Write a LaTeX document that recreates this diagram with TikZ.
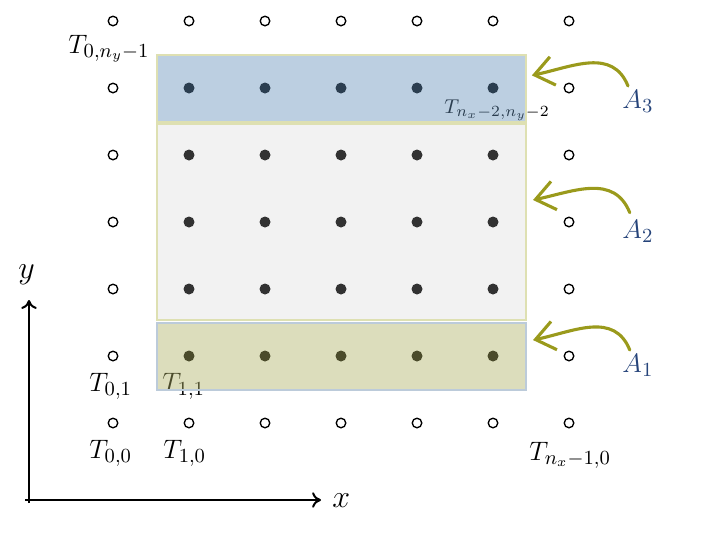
\documentclass[tikz,border=0pt]{standalone}
\usetikzlibrary{arrows.meta,calc}
\definecolor{olivearr}{RGB}{154,154,28}
\definecolor{alabel}{RGB}{38,68,122}
\definecolor{fillthree}{RGB}{100,144,186}
\definecolor{filltwo}{RGB}{203,203,203}
\definecolor{fillone}{RGB}{174,176,100}
\definecolor{edgeyel}{RGB}{222,224,178}
\definecolor{edgeblue}{RGB}{188,203,218}
\begin{document}
\begin{tikzpicture}[x=0.45pt,y=-0.45pt,
  odot/.style={circle,draw=black,fill=white,line width=0.6pt,inner sep=0pt,minimum size=4.3pt},
  idot/.style={odot,fill=black},
  tlab/.style={inner sep=0pt,font=\fontsize{12.8}{15}\selectfont},
  slab/.style={inner sep=0pt,font=\fontsize{9.4}{11}\selectfont},
  alab/.style={inner sep=0pt,text=alabel,font=\fontsize{13}{15}\selectfont},
  axlab/.style={inner sep=0pt,font=\Large},
  regbox/.style={rectangle,inner sep=0pt,line width=0.9pt,minimum width=369*0.45pt},
  axis/.style={line width=0.9pt,-{To[length=4pt,width=7pt]}},
  garrow/.style={olivearr,line width=1.4pt,line cap=round,-{Straight Barb[length=8.5pt,width=13pt,line width=1.4pt]}}
]
\useasboundingbox (0,0) rectangle (707,547);
% grid of points
\foreach \i in {0,...,6}{
  \foreach \j in {0,...,6}{
    \pgfmathtruncatemacro\isin{(\i>0)&&(\i<6)&&(\j>0)&&(\j<6)}
    \ifnum\isin=1
      \node[idot] (p\i\j) at ({113+76*\i},{423-67*\j}) {};
    \else
      \node[odot] (p\i\j) at ({113+76*\i},{423-67*\j}) {};
    \fi
  }
}
% labels
\node[tlab,anchor=base west] (t0ny) at (68,53) {$T_{0,n_y-1}$};
\node[slab,anchor=base west] (tnn) at (444,113) {$T_{n_x-2,n_y-2}$};
\node[tlab,anchor=base west] (t01) at (89,391) {$T_{0,1}$};
\node[tlab,anchor=base west] (t11) at (162,391) {$T_{1,1}$};
\node[tlab,anchor=base west] (t00) at (89,458) {$T_{0,0}$};
\node[tlab,anchor=base west] (t10) at (163,458) {$T_{1,0}$};
\node[tlab,anchor=base west] (tn0) at (529,460) {$T_{n_x-1,0}$};
% regions
\node[regbox,fill=fillthree,fill opacity=0.43,draw=edgeyel,minimum height=67*0.45pt] (B3) at (341.5,88.5) {};
\node[regbox,fill=filltwo,fill opacity=0.25,draw=edgeyel,minimum height=196*0.45pt] (B2) at (341.5,222) {};
\node[regbox,fill=fillone,fill opacity=0.43,draw=edgeblue,minimum height=67*0.45pt] (B1) at (341.5,356.5) {};
% region labels
\node[alab,anchor=base west] (A3) at (622,108) {$A_3$};
\node[alab,anchor=base west] (A2) at (622,238) {$A_2$};
\node[alab,anchor=base west] (A1) at (622,372) {$A_1$};
\draw[garrow] ([xshift=2.7pt,yshift=1.5pt]A3.north west) to[out=112,in=12,looseness=1.1] ([xshift=2.2pt,yshift=5.9pt]B3.east);
\draw[garrow] ([xshift=3.5pt,yshift=3pt]A2.north west) to[out=112,in=12,looseness=1.1] ([xshift=2.7pt,yshift=9.9pt]B2.east);
\draw[garrow] ([xshift=3.5pt,yshift=1.5pt]A1.north west) to[out=112,in=12,looseness=1.1] ([xshift=2.7pt,yshift=7.4pt]B1.east);
% axes
\coordinate (oy) at (29,503);
\coordinate (ty) at (29,300);
\coordinate (ox) at (25,500);
\coordinate (tx) at (321,500);
\draw[axis] (oy) -- (ty);
\draw[axis] (ox) -- (tx);
\node[axlab,anchor=base west] (ylab) at (18,278) {$y$};
\node[axlab,anchor=base west] (xlab) at (332,507) {$x$};
\end{tikzpicture}
\end{document}
